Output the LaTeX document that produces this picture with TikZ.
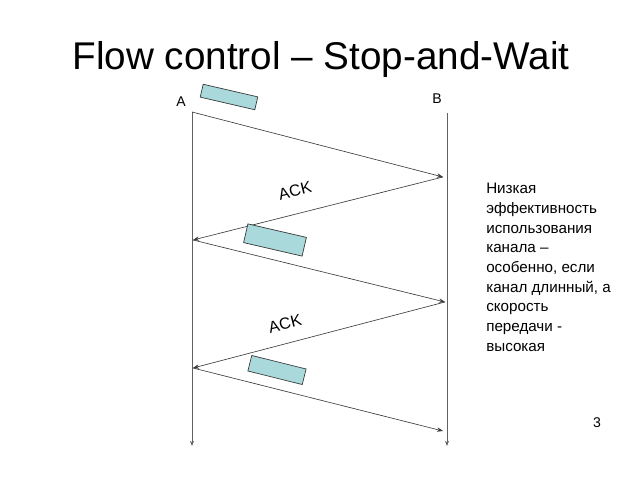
\documentclass[tikz,border=0pt]{standalone}
\usepackage{fontspec}
\setmainfont{Liberation Sans}
\usetikzlibrary{arrows.meta,positioning,calc}
\definecolor{ink}{HTML}{3A3A3A}
\definecolor{pkt}{HTML}{AAD9DC}
\tikzset{packet/.style={draw=ink,fill=pkt,line width=0.5pt,inner sep=0pt,minimum width=1.4cm,minimum height=0.4cm},
 msgarrow/.style={-{Stealth[length=1.5mm,width=1.1mm]},draw=ink,line width=0.45pt},
 lifeline/.style={-{Stealth[length=1.3mm,width=1mm]},draw=ink!80,line width=0.7pt}}
\begin{document}
\begin{tikzpicture}[x=0.025cm,y=-0.025cm,lbl/.style={font=\fontsize{10}{12}\selectfont,inner sep=0pt}]
\useasboundingbox (0,0) rectangle (640,480);
\node[font=\fontsize{27.5}{32}\selectfont] (title) at (321,60) {Flow control – Stop-and-Wait};
\node[lbl] (A) at (181,102) {A};
\node[lbl] (B) at (437,99) {B};
% lifelines
\coordinate (a0) at (192,112);\coordinate (aend) at (192,446);
\coordinate (b0) at (447,113);\coordinate (bend) at (447,446);
\draw[lifeline] (a0)--(aend);\draw[lifeline] (b0)--(bend);
% frames and acks
\coordinate (b1) at (443,177);\coordinate (a1) at (193,240);
\coordinate (b2) at (445,302);\coordinate (a2) at (193,368);
\coordinate (b3) at (443,431);
\draw[msgarrow] (a0)--(b1);\draw[msgarrow] (b1)--(a1);
\draw[msgarrow] (a1)--(b2);\draw[msgarrow] (b2)--(a2);
\draw[msgarrow] (a2)--(b3);
\node[packet,rotate=-13,minimum height=0.33cm] (p1) at (229,97) {};
\node[packet,rotate=-13,minimum width=1.5cm,minimum height=0.48cm] (p2) at (275,240) {};
\node[packet,rotate=-14] (p3) at (277,370) {};
\node[lbl,font=\fontsize{11.5}{12}\selectfont,rotate=14] (ack1) at (295,191) {ACK};
\node[lbl,font=\fontsize{11.5}{12}\selectfont,rotate=14] (ack2) at (285,324) {ACK};
\node[lbl,anchor=north west,align=left,font=\fontsize{10.8}{14}\selectfont] (note) at (486,183) {Низкая\\эффективность\\использования\\канала –\\особенно, если\\канал длинный, а\\скорость\\передачи -\\высокая};
\node[lbl] (page) at (597,423) {3};
\end{tikzpicture}
\end{document}
